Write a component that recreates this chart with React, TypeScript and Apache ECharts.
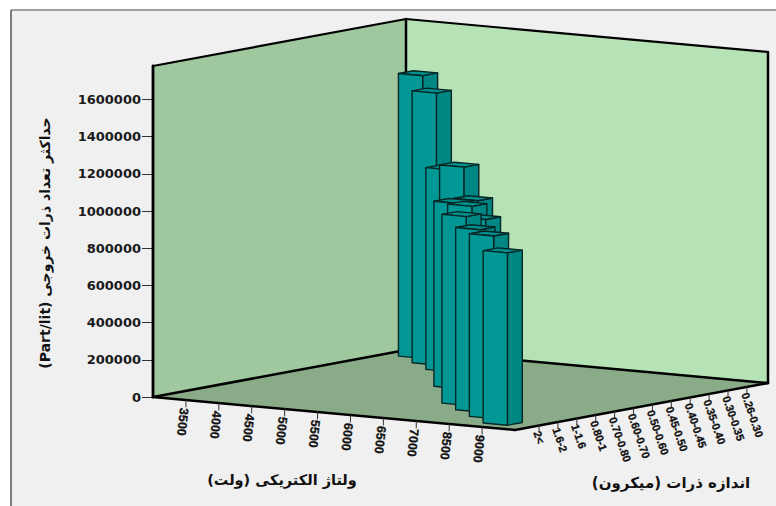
import React, { useEffect, useRef } from "react";
import * as echarts from "echarts";

const voltages = ["3500", "4000", "4500", "5000", "5500", "6000", "6500", "7000", "8500", "9000"];
const sizes = ["2<", "1.6-2", "1-1.6", "0.80-1", "0.70-0.80", "0.60-0.70", "0.50-0.60", "0.45-0.50", "0.40-0.45", "0.35-0.40", "0.30-0.35", "0.26-0.30"];
const yTicks = [0, 200000, 400000, 600000, 800000, 1000000, 1200000, 1400000, 1600000];
// back to front
const barVoltage = ["3500", "4000", "4500", "5000", "5500", "5500", "6000", "6500", "6500", "7000", "8500", "9000"];
const barSize = ["0.26-0.30", "0.30-0.35", "0.35-0.40", "0.40-0.45", "0.45-0.50", "0.50-0.60", "0.60-0.70", "0.70-0.80", "0.80-1", "1-1.6", "1.6-2", "2<"];
const barValue = [1520000, 1462000, 1085000, 1135000, 990000, 995000, 1015000, 980000, 1015000, 980000, 982000, 927000];

const Y_TITLE = "(Part/lit) حداکثر تعداد ذرات خروجی";
const X_TITLE = "ولتاژ الکتریکی (ولت)\u200F";
const Z_TITLE = "اندازه ذرات (میکرون)\u200F";

const AX = 153, AY = 397;
const UX = 362, UY = 33, VX = 253, VY = -47;
const Y_MAX = 1780000;
const uOf = (i: number) => (i + 1) / 11;
const vOf = (i: number) => 0.095 + 0.0747 * i;
const barU = (i: number) => 0.047 + 0.0916 * i;
const barV = (j: number) => 0.058 + 0.0768 * j;
const BAR_U = 0.067, BAR_V = 0.059;

function proj(api: any, u: number, v: number, val: number): number[] {
  const h = api.coord([0, 0])[1] - api.coord([0, val])[1];
  return [AX + UX * u + VX * v, AY + UY * u + VY * v - h];
}
const poly = (points: number[][], fill: string, stroke?: string, lineWidth = 1) => ({
  type: "polygon",
  shape: { points },
  style: { fill, stroke: stroke ?? "none", lineWidth, lineJoin: "round" },
});
const seg = (a: number[], b: number[], w: number, c = "#000") => ({
  type: "line",
  shape: { x1: a[0], y1: a[1], x2: b[0], y2: b[1] },
  style: { stroke: c, lineWidth: w, lineCap: "round" },
});

export default function App() {
  const ref = useRef<HTMLDivElement>(null);
  useEffect(() => {
    const chart = echarts.init(ref.current!, undefined, { renderer: "svg" });
    const common = { type: "custom", coordinateSystem: "cartesian2d", clip: false, silent: true };
    chart.setOption({
      animation: false,
      backgroundColor: "#ffffff",
      grid: { left: AX, top: 66, width: 615, height: 331 },
      xAxis: { type: "value", min: 0, max: 1, show: false },
      yAxis: {
        type: "value",
        min: 0,
        max: Y_MAX,
        splitLine: { show: false },
        axisLine: { show: false },
        axisTick: { show: true, length: 11, customValues: yTicks, lineStyle: { color: "#333", width: 1 } },
        axisLabel: {
          customValues: yTicks,
          margin: 12,
          formatter: (v: number) => String(v),
          fontFamily: "DejaVu Sans",
          fontWeight: "bold",
          fontSize: 13,
          color: "#1a1a1a",
        },
      },
      graphic: [
        { type: "rect", z: -10, shape: { x: 11, y: 10, width: 765, height: 496 }, style: { fill: "#f0f0f0" } },
        { type: "line", z: -9, shape: { x1: 11, y1: 10, x2: 776, y2: 10 }, style: { stroke: "#808080", lineWidth: 1.5 } },
        { type: "line", z: -9, shape: { x1: 11, y1: 10, x2: 11, y2: 506 }, style: { stroke: "#555", lineWidth: 1.5 } },
        { type: "text", x: 282, y: 480, style: { text: X_TITLE, font: "bold 14.5px 'DejaVu Sans'", fill: "#111", textAlign: "center", textVerticalAlign: "middle" } },
        { type: "text", x: 671, y: 483, style: { text: Z_TITLE, font: "bold 15px 'DejaVu Sans'", fill: "#111", textAlign: "center", textVerticalAlign: "middle" } },
        { type: "text", x: 45, y: 243, rotation: Math.PI / 2, style: { text: Y_TITLE, font: "bold 14px 'DejaVu Sans'", fill: "#111", textAlign: "center", textVerticalAlign: "middle" } },
      ],
      series: [
        {
          ...common,
          z: 1,
          encode: { x: 0, y: 1 },
          data: [[0, 0]],
          renderItem: (_p: any, api: any) => {
            const P = (u: number, v: number, t: number) => proj(api, u, v, t);
            const a = P(0, 0, 0), b = P(1, 0, 0), c = P(1, 1, 0), d = P(0, 1, 0);
            const at = P(0, 0, Y_MAX), ct = P(1, 1, Y_MAX), dt = P(0, 1, Y_MAX);
            return {
              type: "group",
              children: [
                poly([a, at, dt, d], "#9fc89f"),
                poly([d, dt, ct, c], "#b5e3b5"),
                poly([a, b, c, d], "#8aab88"),
                seg(at, dt, 2.2),
                seg(dt, ct, 2.2),
                seg(d, dt, 2.5),
                seg(c, ct, 2.5),
                seg(a, at, 2.8),
                seg(a, d, 2.5),
                seg(d, c, 2.5),
                seg(a, b, 2.5),
                seg(b, c, 2.5),
              ],
            };
          },
        },
        {
          ...common,
          z: 2,
          encode: { x: 0, y: 2 },
          data: barVoltage.map((v, i) => [voltages.indexOf(v), sizes.indexOf(barSize[i]), barValue[i]]),
          renderItem: (_p: any, api: any) => {
            const u = barU(api.value(0));
            const v = barV(api.value(1));
            const val = api.value(2);
            const P = (du: number, dv: number, t: number) => proj(api, u + du, v + dv, t);
            const fb = P(0, 0, 0), fb2 = P(BAR_U, 0, 0), sb = P(BAR_U, BAR_V, 0);
            const ft = P(0, 0, val), ft2 = P(BAR_U, 0, val), st = P(BAR_U, BAR_V, val), bt = P(0, BAR_V, val);
            const line = "#062626";
            return {
              type: "group",
              children: [
                poly([ft2, st, sb, fb2], "#008683", line, 1.4),
                poly([ft, bt, st, ft2], "#008f8c", line, 1.4),
                poly([fb, ft, ft2, fb2], "#009794", line, 1.4),
              ],
            };
          },
        },
        {
          ...common,
          z: 3,
          encode: { x: 0, y: 1 },
          data: voltages.map((_, i) => [i, 0]),
          renderItem: (_p: any, api: any) => {
            const i = api.value(0);
            const p = proj(api, uOf(i), 0, 0);
            return {
              type: "group",
              children: [
                seg(p, [p[0], p[1] + 7], 1, "#333"),
                {
                  type: "text",
                  x: p[0] - 2,
                  y: p[1] + 8,
                  rotation: (-96 * Math.PI) / 180,
                  style: { text: voltages[i], x: 0, y: 0, font: "bold 12.5px 'Liberation Sans'", fill: "#111", stroke: "#111", lineWidth: 0.3, textAlign: "left", textVerticalAlign: "middle" },
                },
              ],
            };
          },
        },
        {
          ...common,
          z: 3,
          encode: { x: 0, y: 1 },
          data: sizes.map((_, i) => [i, 0]),
          renderItem: (_p: any, api: any) => {
            const i = api.value(0);
            const f = proj(api, 1, vOf(i), 0);
            return {
              type: "group",
              children: [
                seg(f, [f[0], f[1] + 6], 1, "#333"),
                {
                  type: "text",
                  x: f[0] - 2,
                  y: f[1] + 6,
                  rotation: (-71 * Math.PI) / 180,
                  style: { text: sizes[i], x: 0, y: 0, font: "bold 11px 'Liberation Sans'", fill: "#111", stroke: "#111", lineWidth: 0.3, textAlign: "left", textVerticalAlign: "middle" },
                },
              ],
            };
          },
        },
      ],
    });
    return () => chart.dispose();
  }, []);
  return <div ref={ref} style={{ position: "fixed", left: 0, top: 0, width: 776, height: 506 }} />;
}
